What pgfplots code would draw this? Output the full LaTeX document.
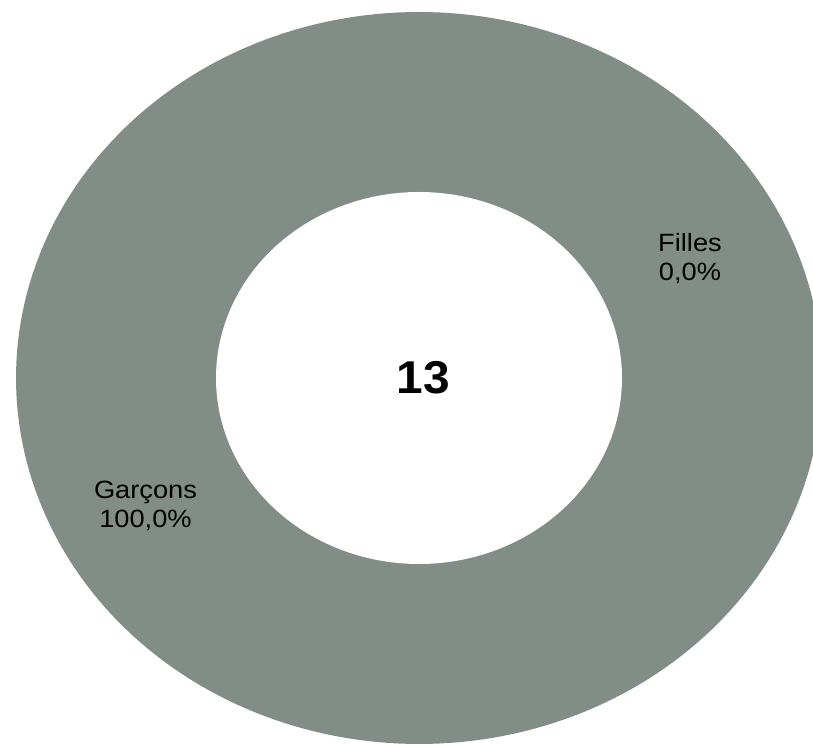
\documentclass[border=0pt]{standalone}
\usepackage{pgfplots}
\usepackage{pgfplotstable}
\pgfplotsset{compat=1.18}
\usepackage{fontspec}
\setmainfont{Liberation Sans}
\definecolor{ringc}{HTML}{818D86}
\pgfplotstableread[col sep=comma]{
label,pct
Garcons,100.0
Filles,0.0
}\shares
\begin{document}
\begin{tikzpicture}
\pgfplotstablegetelem{0}{pct}\of\shares \let\valG\pgfplotsretval
\pgfplotstablegetelem{1}{pct}\of\shares \let\valF\pgfplotsretval
\begin{axis}[
  width=813pt, height=744pt, scale only axis,
  xmin=0, xmax=813, ymin=0, ymax=744,
  axis lines=none, ticks=none,
]
% Garcons slice (outer ellipse sector)
\addplot[fill=ringc, draw=none, domain=0:3.6*\valG, samples=241, variable=\t]
  ({419+403*cos(90-\t)}, {366+366*sin(90-\t)}) -- (axis cs:419,366) -- cycle;
% hole of the donut
\addplot[fill=white, draw=none, domain=0:360, samples=241, variable=\t]
  ({419+203*cos(\t)}, {366+186*sin(\t)}) -- cycle;
\node[font=\fontsize{25}{29}\selectfont, align=center, text=black, xscale=1.09] at (axis cs:690,485) {Filles\\0,0\%};
\node[font=\fontsize{25}{29}\selectfont, align=center, text=black, xscale=1.09] at (axis cs:145.5,238) {Garçons\\100,0\%};
\node[font=\fontsize{46}{50}\selectfont\bfseries, text=black, xscale=1.04] at (axis cs:423.5,366.5) {13};
\end{axis}
\pgfresetboundingbox
\path (current axis.south west) rectangle (current axis.north east);
\end{tikzpicture}
\end{document}
